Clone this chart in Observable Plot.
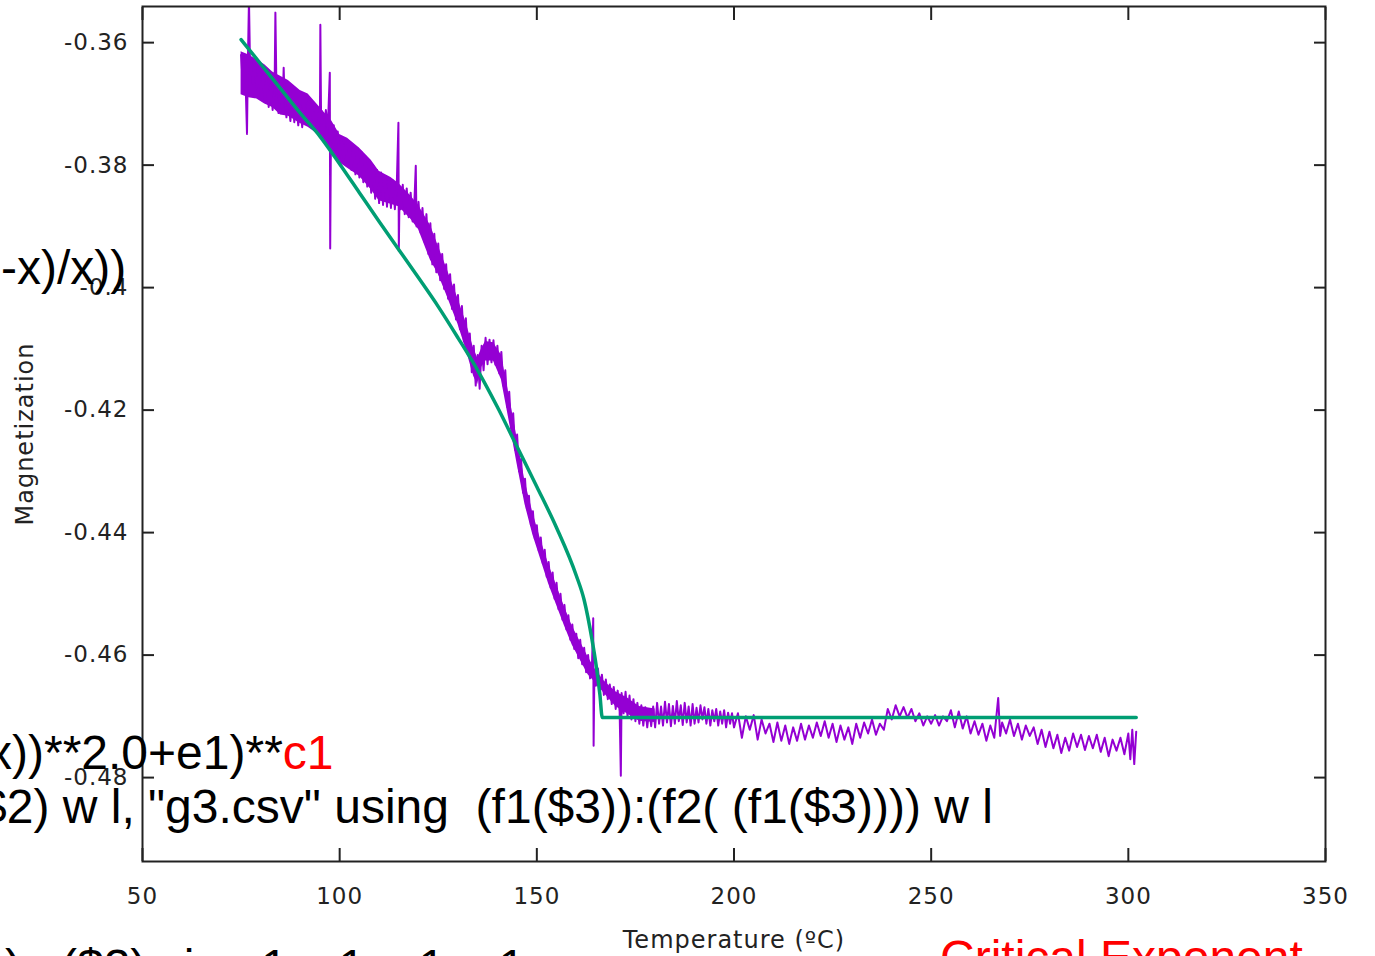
<!DOCTYPE html>
<html><head><meta charset="utf-8">
<script src="https://cdn.jsdelivr.net/npm/d3@7"></script>
<script src="https://cdn.jsdelivr.net/npm/@observablehq/plot@0.6"></script>
<style>
body{margin:0;background:#fff;}
#wrap{position:relative;width:1375px;height:956px;overflow:hidden;background:#fff;}
#plot{position:absolute;left:0;top:0;}
#plot text{letter-spacing:1px;}
#ov{position:absolute;left:0;top:0;pointer-events:none;}
#ov text{font-family:"Liberation Sans",Arial,sans-serif;font-size:48px;white-space:pre;fill:#000;}
</style></head><body>
<div id="wrap"><div id="plot"></div>
<svg id="ov" width="1375" height="956">
<text x="1" y="284">-x)/x))</text>
<text x="-12" y="769">x))**2.0+e1)**<tspan style="fill:#ff0000">c1</tspan></text>
<text x="-20" y="823">$2) w l, "g3.csv" using  (f1($3)):(f2( (f1($3)))) w l</text>
<text x="5" y="983">)   ($2) via a1, c1, e1, a1</text>
<text x="940" y="974" style="fill:#ff0000">Critical Exponent</text>
</svg>
</div>
<script>
const xTicks = [50, 100, 150, 200, 250, 300, 350];
const yTicks = [-0.36, -0.38, -0.40, -0.42, -0.44, -0.46, -0.48];
const xLabel = "Temperature (ºC)";
const yLabel = "Magnetization";

// measured magnetization vs temperature [T (ºC), M]
const magnetizationSamples = [
[75.0,-0.3620],[75.5,-0.3672],[76.0,-0.3630],[76.5,-0.3749],[76.7,-0.3640],[77.0,-0.3530],[77.3,-0.3650],[77.5,-0.3625],
[78.0,-0.3668],[78.5,-0.3635],[79.0,-0.3675],[79.5,-0.3645],[80.0,-0.3690],[80.5,-0.3650],[81.0,-0.3695],[81.5,-0.3660],
[82.0,-0.3705],[82.5,-0.3668],[83.0,-0.3710],[83.5,-0.3675],[83.7,-0.3551],[84.0,-0.3690],[84.5,-0.3715],[85.0,-0.3680],
[85.5,-0.3712],[85.8,-0.3641],[86.0,-0.3685],[86.5,-0.3722],[87.0,-0.3690],[87.5,-0.3728],[88.0,-0.3695],[88.5,-0.3730],
[89.0,-0.3700],[89.5,-0.3735],[90.0,-0.3702],[90.5,-0.3738],[91.0,-0.3700],[91.5,-0.3725],[92.0,-0.3695],[92.5,-0.3728],
[93.0,-0.3705],[93.5,-0.3740],[94.0,-0.3712],[94.5,-0.3745],[95.0,-0.3720],[95.1,-0.3571],[95.3,-0.3735],[95.5,-0.3712],
[96.0,-0.3745],[96.5,-0.3710],[97.0,-0.3740],[97.5,-0.3649],[97.6,-0.3936],[97.8,-0.3735],[98.0,-0.3765],[98.5,-0.3735],
[99.0,-0.3775],[99.5,-0.3745],[100.0,-0.3790],[100.5,-0.3755],[101.0,-0.3795],[101.5,-0.3760],[102.0,-0.3800],[102.5,-0.3765],
[103.0,-0.3808],[103.5,-0.3770],[104.0,-0.3815],[104.5,-0.3772],[105.0,-0.3820],[105.5,-0.3778],[106.0,-0.3828],[106.5,-0.3785],
[107.0,-0.3835],[107.5,-0.3792],[108.0,-0.3845],[108.5,-0.3800],[109.0,-0.3855],[109.5,-0.3808],[110.0,-0.3862],[110.5,-0.3812],
[111.0,-0.3865],[111.5,-0.3818],[112.0,-0.3868],[112.5,-0.3822],[113.0,-0.3870],[113.5,-0.3825],[114.0,-0.3872],[114.5,-0.3828],
[114.9,-0.3731],[115.0,-0.3940],[115.2,-0.3840],[115.5,-0.3872],[116.0,-0.3832],[116.5,-0.3880],[117.0,-0.3838],[117.5,-0.3885],
[118.0,-0.3845],[118.5,-0.3892],[119.0,-0.3852],[119.3,-0.3801],[119.5,-0.3900],[120.0,-0.3860],[120.5,-0.3910],[121.0,-0.3870],
[121.5,-0.3925],[122.0,-0.3880],[122.5,-0.3945],[123.0,-0.3895],[123.5,-0.3962],[124.0,-0.3912],[124.5,-0.3975],[125.0,-0.3928],
[125.5,-0.3988],[126.0,-0.3945],[126.5,-0.4002],[127.0,-0.3962],[127.5,-0.4018],[128.0,-0.3978],[128.5,-0.4035],[129.0,-0.3995],
[129.5,-0.4052],[130.0,-0.4012],[130.5,-0.4068],[131.0,-0.4030],[131.5,-0.4088],[132.0,-0.4050],[132.5,-0.4110],[133.0,-0.4075],
[133.5,-0.4138],[134.0,-0.4095],[134.5,-0.4160],[135.0,-0.4110],[135.5,-0.4165],[136.0,-0.4095],[136.5,-0.4135],[137.0,-0.4082],
[137.5,-0.4125],[138.0,-0.4085],[138.5,-0.4122],[139.0,-0.4086],[139.5,-0.4126],[140.0,-0.4095],[140.5,-0.4140],[141.0,-0.4105],
[141.5,-0.4160],[142.0,-0.4135],[142.5,-0.4195],[143.0,-0.4170],[143.5,-0.4230],[144.0,-0.4205],[144.5,-0.4265],[145.0,-0.4240],
[145.5,-0.4300],[146.0,-0.4280],[146.5,-0.4335],[147.0,-0.4312],[147.5,-0.4362],[148.0,-0.4340],[148.5,-0.4388],[149.0,-0.4365],
[149.5,-0.4410],[150.0,-0.4388],[150.5,-0.4430],[151.0,-0.4408],[151.5,-0.4450],[152.0,-0.4428],[152.5,-0.4472],[153.0,-0.4448],
[153.5,-0.4490],[154.0,-0.4465],[154.5,-0.4508],[155.0,-0.4482],[155.5,-0.4525],[156.0,-0.4500],[156.5,-0.4542],[157.0,-0.4518],
[157.5,-0.4558],[158.0,-0.4535],[158.5,-0.4575],[159.0,-0.4550],[159.5,-0.4590],[160.0,-0.4565],[160.5,-0.4605],[161.0,-0.4575],
[161.5,-0.4615],[162.0,-0.4588],[162.5,-0.4628],[163.0,-0.4600],[163.5,-0.4638],[164.0,-0.4612],[164.3,-0.4540],[164.4,-0.4748],
[164.6,-0.4625],[165.0,-0.4650],[165.5,-0.4622],[166.0,-0.4658],[166.5,-0.4632],[167.0,-0.4665],[167.5,-0.4640],[168.0,-0.4672],
[168.5,-0.4648],[169.0,-0.4680],[169.5,-0.4652],[170.0,-0.4688],[170.5,-0.4658],[171.0,-0.4692],[171.3,-0.4797],[171.5,-0.4662],
[172.0,-0.4695],[172.5,-0.4660],[173.0,-0.4700],[173.5,-0.4666],[174.0,-0.4705],[174.5,-0.4672],[175.0,-0.4708],[175.5,-0.4678],
[176.0,-0.4712],[176.5,-0.4682],[177.0,-0.4715],[177.5,-0.4685],[178.0,-0.4718],[178.5,-0.4688],[179.0,-0.4716],[179.5,-0.4684],
[180.0,-0.4718],[180.5,-0.4678],[181,-0.4712],[181.5,-0.4684],[182,-0.4715],[182.5,-0.4676],[183,-0.4710],[183.5,-0.4680],
[184,-0.4716],[184.5,-0.4683],[185,-0.4712],[185.5,-0.4675],[186,-0.4708],[186.5,-0.4682],[187,-0.4714],[187.5,-0.4678],
[188,-0.4710],[188.5,-0.4684],[189,-0.4715],[189.5,-0.4680],[190,-0.4712],[190.5,-0.4686],[191,-0.4710],[191.5,-0.4682],
[192,-0.4705],[192.5,-0.4685],[193,-0.4712],[193.5,-0.4688],[194,-0.4715],[194.5,-0.4690],[195,-0.4708],[195.5,-0.4688],
[196,-0.4715],[196.5,-0.4692],[197,-0.4712],[197.5,-0.4690],[198,-0.4718],[198.5,-0.4694],[199,-0.4712],[199.5,-0.4695],
[200,-0.4718],[201,-0.4695],[202,-0.4735],[203,-0.4700],[204,-0.4722],[205,-0.4698],[206,-0.4738],[207,-0.4705],
[208,-0.4728],[209,-0.4712],[210,-0.4742],[211,-0.4710],[212,-0.4740],[213,-0.4715],[214,-0.4745],[215,-0.4718],
[216,-0.4740],[217,-0.4712],[218,-0.4738],[219,-0.4715],[220,-0.4735],[221,-0.4710],[222,-0.4732],[223,-0.4708],
[224,-0.4735],[225,-0.4712],[226,-0.4742],[227,-0.4715],[228,-0.4738],[229,-0.4718],[230,-0.4745],[231,-0.4712],
[232,-0.4735],[233,-0.4710],[234,-0.4728],[235,-0.4705],[236,-0.4730],[237,-0.4712],[238,-0.4722],[239,-0.4688],
[240,-0.4705],[241,-0.4682],[242,-0.4700],[243,-0.4685],[244,-0.4702],[245,-0.4688],[246,-0.4708],[247,-0.4695],
[248,-0.4715],[249,-0.4700],[250,-0.4712],[251,-0.4698],[252,-0.4715],[253,-0.4700],[254,-0.4708],[255,-0.4690],
[256,-0.4718],[257,-0.4692],[258,-0.4720],[259,-0.4700],[260,-0.4728],[261,-0.4708],[262,-0.4730],[263,-0.4712],
[264,-0.4740],[265,-0.4715],[266,-0.4735],[267,-0.4670],[267.5,-0.4732],[268,-0.4710],[269,-0.4728],[270,-0.4705],
[271,-0.4732],[272,-0.4712],[273,-0.4738],[274,-0.4715],[275,-0.4732],[276,-0.4718],[277,-0.4745],[278,-0.4722],
[279,-0.4750],[280,-0.4725],[281,-0.4752],[282,-0.4730],[283,-0.4760],[284,-0.4735],[285,-0.4756],[286,-0.4728],
[287,-0.4750],[288,-0.4730],[289,-0.4755],[290,-0.4732],[291,-0.4752],[292,-0.4730],[293,-0.4758],[294,-0.4735],
[295,-0.4765],[296,-0.4738],[297,-0.4756],[298,-0.4735],[299,-0.4762],[300,-0.4728],[300.5,-0.4770],[301,-0.4722],
[301.5,-0.4778],[302,-0.4725]
];

// dense-noise core of the measurement [T (ºC), upper M, lower M]
const noiseBand = [
[75,-0.3615,-0.3685],[77,-0.3620,-0.3690],[79,-0.3628,-0.3692],[81,-0.3636,-0.3700],[83,-0.3648,-0.3706],
[85,-0.3655,-0.3718],[87,-0.3662,-0.3720],[90,-0.3678,-0.3732],[92,-0.3684,-0.3738],[95,-0.3706,-0.3752],
[98,-0.3728,-0.3776],[100,-0.3750,-0.3796],[102,-0.3756,-0.3805],[105,-0.3772,-0.3818],[108,-0.3792,-0.3840],
[110,-0.3810,-0.3858],[113,-0.3820,-0.3864],[115,-0.3830,-0.3868],[118,-0.3850,-0.3888],[120,-0.3866,-0.3905],
[123,-0.3898,-0.3955],[125,-0.3932,-0.3978],[127,-0.3966,-0.4010],[130,-0.4018,-0.4060],[132,-0.4056,-0.4100],
[134,-0.4100,-0.4145],[135,-0.4115,-0.4158],[136,-0.4100,-0.4130],[137,-0.4088,-0.4120],[139,-0.4090,-0.4120],
[141,-0.4110,-0.4150],[143,-0.4176,-0.4218],[145,-0.4246,-0.4288],[147,-0.4316,-0.4354],[149,-0.4368,-0.4404],
[151,-0.4412,-0.4444],[153,-0.4452,-0.4484],[155,-0.4486,-0.4518],[157,-0.4521,-0.4552],[159,-0.4553,-0.4584],
[161,-0.4578,-0.4608],[163,-0.4603,-0.4632],[165,-0.4625,-0.4646],[167,-0.4642,-0.4662],[170,-0.4660,-0.4684],
[173,-0.4670,-0.4696],[176,-0.4684,-0.4708],[180,-0.4688,-0.4710]
];

// fitted curve [T (ºC), M]
const fitCurve = [
[75,-0.3595],[80,-0.3635],[85,-0.3675],[90,-0.3715],[95,-0.3753],[100,-0.3798],[105,-0.3845],[110,-0.3892],
[115,-0.3938],[120,-0.3984],[125,-0.4031],[130,-0.4082],[135,-0.4135],[140,-0.4195],[145,-0.4260],[150,-0.4325],
[155,-0.4392],[160,-0.4470],[162,-0.4510],[164,-0.4575],[165,-0.4615],[166,-0.4665],[166.6,-0.4702],[302,-0.4702]
];

const data = magnetizationSamples.map(([t, m]) => ({t, m}));
const band = noiseBand.map(([t, hi, lo]) => ({t, hi, lo}));
const fit = fitCurve.map(([t, m]) => ({t, m}));
const fmtY = d => String(+d.toFixed(2));
const axisStyle = {strokeWidth: 2, stroke: "#222", fill: "#222"};
const purple = "#9400d3";

const chart = Plot.plot({
  width: 1375, height: 956,
  marginLeft: 142, marginRight: 50, marginTop: 6, marginBottom: 95,
  x: {domain: [50, 350]},
  y: {domain: [-0.4937, -0.3541]},
  style: {fontFamily: "DejaVu Sans", fontSize: "23px", color: "#222", background: "transparent", overflow: "visible"},
  marks: [
    Plot.areaY(band, {x: "t", y1: "lo", y2: "hi", fill: purple}),
    Plot.line(data, {x: "t", y: "m", stroke: purple, strokeWidth: 2, clip: true}),
    Plot.line(fit, {x: "t", y: "m", stroke: "#009e73", strokeWidth: 3.5, curve: "monotone-x", clip: true}),
    Plot.frame({stroke: "#222", strokeWidth: 2}),
    Plot.axisX(xTicks, {anchor: "bottom", tickSize: -13, tickPadding: 39, tickFormat: d => String(d), label: null, ...axisStyle}),
    Plot.axisX(xTicks, {anchor: "top", tickSize: -13, tickFormat: () => "", label: null, ...axisStyle}),
    Plot.axisY(yTicks, {anchor: "left", tickSize: -12, tickPadding: 26, tickFormat: fmtY, label: null, ...axisStyle}),
    Plot.axisY(yTicks, {anchor: "right", tickSize: -12, tickFormat: () => "", label: null, ...axisStyle}),
    Plot.text([xLabel], {frameAnchor: "bottom", dy: 86, text: d => d, fontSize: 24, fill: "#222", textAnchor: "middle"}),
    Plot.text([yLabel], {frameAnchor: "left", dx: -117, rotate: -90, text: d => d, fontSize: 24, fill: "#222", textAnchor: "middle"})
  ]
});
document.getElementById("plot").appendChild(chart);
</script>
</body></html>
